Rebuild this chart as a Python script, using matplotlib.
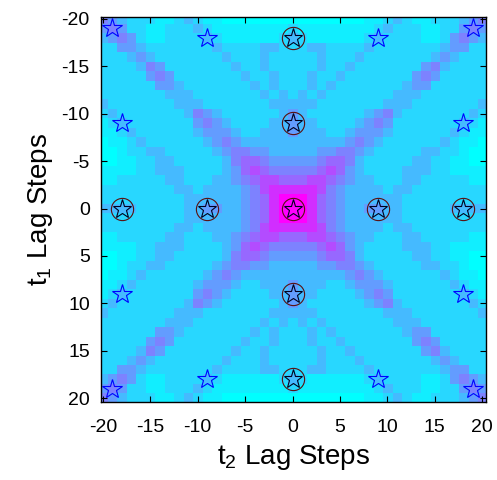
import numpy as np
import matplotlib
matplotlib.use("Agg")
import matplotlib.pyplot as plt

plt.rcParams['font.family'] = ['Liberation Sans', 'DejaVu Sans']
plt.rcParams['mathtext.default'] = 'regular'
plt.rcParams['axes.unicode_minus'] = False

# lag axes
lags = np.arange(-20, 21)

# heatmap levels (0 = cyan ... 9 = magenta),
# rows t1 = -20..20, columns t2 = -20..20
level_rows = [
    "54322211232110000000000000001123211222345",
    "45422112223211111111211111111232221122454",
    "34542112222321111112321111112322221124543",
    "22443222222232222332223322223222222234422",
    "22234322222223222322222322232222222343222",
    "22223542222222322322222322322222224532222",
    "22222454222222232232223223222222245422222",
    "22222244322222223232223232222222344222222",
    "22222223332222222323232322222223332222222",
    "32222222333222222233333222222233322222223",
    "23222222235432222223432222223453222222232",
    "12322222224543222233433222234542222222321",
    "11232222223444322333433322344432222223211",
    "01123222222345433333333333454322222232110",
    "00122332222234554433333445543222223322100",
    "00112233222223566544444566532222233221100",
    "11112233322223467655555676432222333221111",
    "11222223322233456776667765433222332222211",
    "22222222332333345788888754333323322222222",
    "22222222233333345689998654333333222222222",
    "33332222233443345689998654334433222223333",
    "22222222233333345689998654333333222222222",
    "22222222332333345788888754333323322222222",
    "11222223322233456776667765433222332222211",
    "11112233322223467655555676432222333221111",
    "00112233222223566544444566532222233221100",
    "00122332222234554433333445543222223322100",
    "01123222222345433333333333454322222232110",
    "11232222223444322333433322344432222223211",
    "12322222224543222233433222234542222222321",
    "23222222235432222223432222223453222222232",
    "32222222333222222233333222222233322222223",
    "22222223332222222323232322222223332222222",
    "22222244322222223232223232222222344222222",
    "22222454222222232232223223222222245422222",
    "22223542222222322322222322322222224532222",
    "22234322222223222322222322232222222343222",
    "22443222222232222332223322223222222234422",
    "34542112222321111112321111112322221124543",
    "45422112223211111111211111111232221122454",
    "54322211232110000000000000001123211222345",
]

# colour value of each level on the cool scale
level_values = [0.0, 0.07, 0.16, 0.27, 0.39, 0.49, 0.59, 0.70, 0.82, 1.0]

# expected peaks (circles + black stars), t2 / t1
peak_t2 = [0, 0, 0, 0, 0, -9, -18, 9, 18]
peak_t1 = [0, -9, -18, 9, 18, 0, 0, 0, 0]

# other detected peaks (blue stars)
star_t2 = [-19, -9, -18, 9, 19, 18, -18, -19, -9, 9, 19, 18]
star_t1 = [-19, -18, -9, -18, -19, -9, 9, 19, 18, 18, 19, 9]

ticks = [-20, -15, -10, -5, 0, 5, 10, 15, 20]

Z = np.array([[level_values[int(c)] for c in row] for row in level_rows])

fig = plt.figure(figsize=(4.97, 4.80), dpi=100)
ax = fig.add_axes([0.203, 0.1625, 0.775, 0.802])

ax.imshow(Z, cmap='cool', vmin=0, vmax=1, interpolation='nearest',
          extent=[lags[0] - 0.5, lags[-1] + 0.5, lags[-1] + 0.5, lags[0] - 0.5],
          aspect='auto')

ax.plot(star_t2, star_t1, linestyle='none', marker='*', markersize=15,
        markerfacecolor='none', markeredgecolor='#0000ff', markeredgewidth=0.8)
ax.plot(peak_t2, peak_t1, linestyle='none', marker='*', markersize=14,
        markerfacecolor='none', markeredgecolor='#000020', markeredgewidth=0.8)
ax.plot(peak_t2, peak_t1, linestyle='none', marker='o', markersize=16,
        markerfacecolor='none', markeredgecolor='#5a1010', markeredgewidth=0.8)

ax.set_xlim(-20.2, 20.4)
ax.set_ylim(20.4, -20.2)
ax.set_xticks(ticks)
ax.set_yticks(ticks)
ax.tick_params(direction='in', length=4, width=0.8, labelsize=14,
               top=True, right=True)
ax.tick_params(axis='x', pad=12)
ax.tick_params(axis='y', pad=8)
for s in ax.spines.values():
    s.set_linewidth(1.0)

ax.set_xlabel('t$_2$ Lag Steps', fontsize=20, labelpad=5)
ax.set_ylabel('t$_1$ Lag Steps', fontsize=20, labelpad=5)

fig.savefig('out.png', dpi=100)
